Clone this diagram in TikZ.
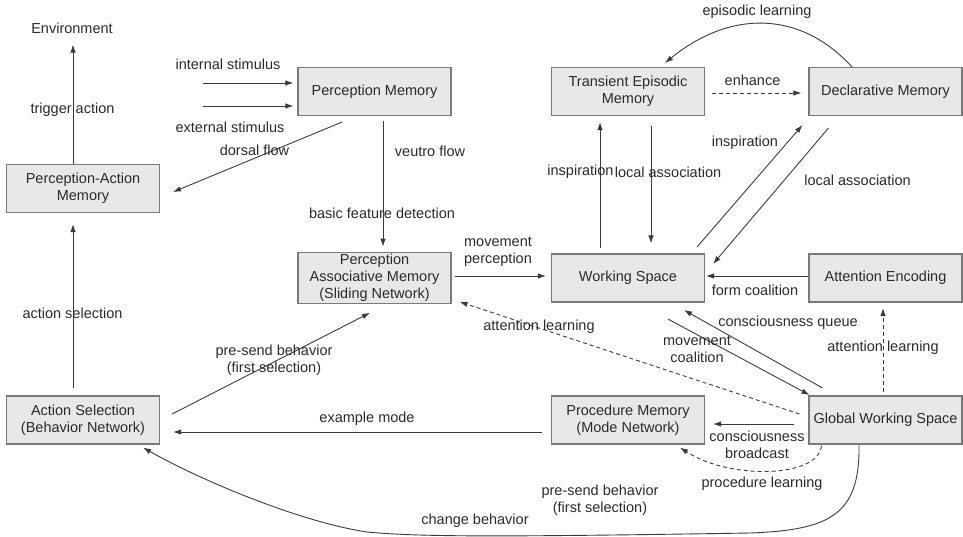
\documentclass[tikz,border=0pt]{standalone}
\usepackage{fontspec}
\setmainfont{Liberation Sans}
\usetikzlibrary{arrows.meta,calc}
\definecolor{boxfill}{HTML}{E8E8E8}
\definecolor{boxline}{HTML}{7A7A7A}
\definecolor{wire}{HTML}{3A3A3A}
\definecolor{ink}{HTML}{2A2A2A}
\tikzset{
  memory/.style={draw=boxline, line width=1.1pt, fill=boxfill,
    minimum width=153pt, minimum height=48pt, align=center,
    inner sep=2pt, text=ink},
  lbl/.style={inner sep=1pt, align=center, text=ink},
  arr/.style={draw=wire, line width=0.9pt, -{Latex[length=8pt,width=5.5pt]}},
  darr/.style={arr, dash pattern=on 4pt off 3pt},
}
\begin{document}
\begin{tikzpicture}[x=1pt, y=-1pt, font=\fontsize{14.5}{17}\selectfont]
\useasboundingbox (0,0) rectangle (963,536);

% memory modules
\node[memory] (PM)   at (374.5,91.5) {Perception Memory};
\node[memory] (PAM)  at (83,188.5)   {Perception-Action\\Memory};
\node[memory] (PAsM) at (374.5,278)  {Perception\\Associative Memory\\(Sliding Network)};
\node[memory] (AS)   at (83,420)     {Action Selection\\(Behavior Network)};
\node[memory] (TEM)  at (628,91.5)   {Transient Episodic\\Memory};
\node[memory] (DM)   at (885.5,91.5) {Declarative Memory};
\node[memory] (WS)   at (628,278)    {Working Space};
\node[memory] (AE)   at (885.5,278)  {Attention Encoding};
\node[memory] (ProcM) at (628,420)   {Procedure Memory\\(Mode Network)};
\node[memory] (GWS)  at (885.5,420)  {Global Working Space};

\node[lbl] (env) at (72,28) {Environment};

% stimulus inputs
\coordinate (intin) at ($(PM.west)+(-94,-8.5)$);
\coordinate (extin) at ($(PM.west)+(-94,14.5)$);
\draw[arr] (intin) -- ($(PM.west)+(-4,-8.5)$);
\draw[arr] (extin) -- ($(PM.west)+(-4,14.5)$);
\node[lbl] at (228,64) {internal stimulus};
\node[lbl] at (230,127) {external stimulus};

% left column
\draw[arr] ($(PAM.north)+(-10,0)$) -- ($(env.south)+(1,10)$);
\node[lbl] at (72.5,110) {trigger action};
\draw[arr] ($(AS.north)+(-10,-7)$) -- ($(PAM.south)+(-10,11)$);
\node[lbl] at (72.5,313) {action selection};

% perception flows
\draw[arr] ($(PM.south)+(-32.5,6)$) -- ($(PAM.east)+(13,3.5)$);
\node[lbl] at (254.5,150) {dorsal flow};
\draw[arr] ($(PM.south)+(8.5,5)$) -- ($(PAsM.north)+(8.5,-5)$);
\node[lbl] at (430,151) {veutro flow};
\node[lbl] at (382,213) {basic feature detection};
\draw[arr] ($(PAsM.east)+(3,-2)$) -- ($(WS.west)+(-5,-2)$);
\node[lbl] at (498,251.5) {movement\\perception};

% episodic / declarative exchanges
\draw[arr] ($(WS.north)+(-28,-5.5)$) -- ($(TEM.south)+(-28,6)$);
\node[lbl] at (580.5,172) {inspiration};
\draw[arr] ($(TEM.south)+(23,10)$) -- ($(WS.north)+(23,-10)$);
\node[lbl] at (668,172) {local association};
\draw[arr] ($(WS.north east)+(-8,-6.5)$) -- ($(DM.south west)+(-6,9)$);
\node[lbl] at (745,143) {inspiration};
\draw[arr] ($(DM.south west)+(20,12)$) -- ($(WS.east)+(8,-14)$);
\node[lbl] at (857.5,180) {local association};
\draw[darr] ($(TEM.east)+(7,1.5)$) -- ($(DM.west)+(-7,1.5)$);
\node[lbl] at (752.5,80) {enhance};
\draw[arr] ($(DM.north)+(-33.5,0)$) .. controls (800,10) and (730,10) .. ($(TEM.north)+(37,-4)$);
\node[lbl] at (757,12) {episodic learning};

% coalitions
\draw[arr] ($(AE.west)+(0,-2)$) -- ($(WS.east)+(1,-2)$);
\node[lbl] at (755,290) {form coalition};
\draw[arr] ($(GWS.north west)+(14,-7.5)$) -- ($(WS.south)+(56,7.5)$);
\node[lbl] at (788,323) {consciousness queue};
\draw[arr] ($(WS.south)+(40,16.5)$) -- ($(GWS.north west)+(1,-0.5)$);
\node[lbl] at (697,349.5) {movement\\coalition};

% attention learning
\draw[darr] ($(GWS.north)+(-2.5,-3.5)$) -- ($(AE.south)+(-2.5,5.5)$);
\node[lbl] at (883,348) {attention learning};
\draw[darr] ($(GWS.west)+(-9,-6)$) -- ($(PAsM.south east)+(8,-2.5)$);
\node[lbl] at (539,327) {attention learning};

% broadcast and procedures
\draw[arr] ($(GWS.west)+(-14,4)$) -- ($(ProcM.east)+(8,4)$);
\node[lbl] at (757,445) {consciousness\\broadcast};
\draw[darr] ($(GWS.south west)+(13,1.5)$) .. controls (818,478) and (730,480) .. ($(ProcM.south)+(52,3)$);
\node[lbl] at (762,484) {procedure learning};
\draw[arr] ($(ProcM.west)+(-9,12)$) -- ($(AS.east)+(13,12)$);
\node[lbl] at (367,419) {example mode};
\draw[arr] ($(AS.east)+(12,-6)$) -- ($(PAsM.south)+(-4.5,8.5)$);
\node[lbl] at (274,360.5) {pre-send behavior\\(first selection)};

% behaviour change loop
\coordinate (loopmid) at (750,533);
\coordinate (looplow) at (367,532);
\draw[arr] ($(GWS.south)+(-26.5,0.5)$) .. controls (860,515) and (830,530) .. (loopmid)
  .. controls (500,537) and (420,537) .. (looplow)
  .. controls (300,522) and (200,480) .. ($(AS.south east)+(-17,3)$);
\node[lbl] at (475,521) {change behavior};
\node[lbl] at (600,500) {pre-send behavior\\(first selection)};
\end{tikzpicture}
\end{document}
